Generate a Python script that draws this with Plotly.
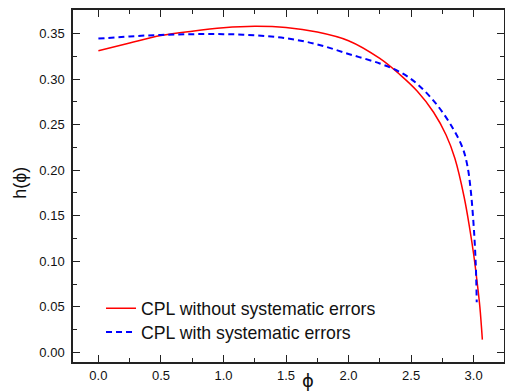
import plotly.graph_objects as go

# Red: CPL without systematic errors
red_x = [0.0, 0.25, 0.5, 0.75, 1.0, 1.25, 1.5, 1.75, 2.0, 2.25, 2.413, 2.55, 2.68, 2.78, 2.85, 2.925, 2.97, 3.0, 3.03, 3.05, 3.07]
red_y = [0.331, 0.3395, 0.3476, 0.3525, 0.3562, 0.3578, 0.3565, 0.3515, 0.342, 0.3225, 0.3045, 0.2865, 0.2635, 0.2385, 0.213, 0.170, 0.135, 0.108, 0.075, 0.050, 0.014]

# Blue: CPL with systematic errors
blue_x = [0.0, 0.25, 0.5, 0.75, 1.0, 1.25, 1.5, 1.75, 2.0, 2.25, 2.413, 2.55, 2.705, 2.838, 2.913, 2.95, 2.977, 3.0, 3.011, 3.019, 3.025]
blue_y = [0.3443, 0.3467, 0.3484, 0.3492, 0.3492, 0.348, 0.3447, 0.338, 0.3275, 0.317, 0.3075, 0.2945, 0.272, 0.245, 0.224, 0.205, 0.178, 0.140, 0.115, 0.090, 0.055]

x_ticks = [0.0, 0.5, 1.0, 1.5, 2.0, 2.5, 3.0]
x_labels = ["0.0", "0.5", "1.0", "1.5", "2.0", "2.5", "3.0"]
y_ticks = [0.00, 0.05, 0.10, 0.15, 0.20, 0.25, 0.30, 0.35]
y_labels = ["0.00", "0.05", "0.10", "0.15", "0.20", "0.25", "0.30", "0.35"]

FONT = "Arial, Liberation Sans, sans-serif"

fig = go.Figure()
fig.add_trace(go.Scatter(x=red_x, y=red_y, mode="lines", name="CPL without systematic errors",
                         legend="legend",
                         line=dict(color="#FF0000", width=1.5, shape="spline", smoothing=1.0)))
fig.add_trace(go.Scatter(x=blue_x, y=blue_y, mode="lines", name="CPL with systematic errors",
                         legend="legend2",
                         line=dict(color="#0000FF", width=2, dash="6px,4px", shape="spline", smoothing=1.0)))

axis_common = dict(showline=True, linecolor="#222222", linewidth=1.5, mirror="ticks",
                   ticks="inside", ticklen=7, tickwidth=1, tickcolor="#222222",
                   showgrid=False, zeroline=False, automargin=False,
                   tickfont=dict(family=FONT, size=13, color="#111111"))

leg_common = dict(xanchor="left", yanchor="middle", bgcolor="rgba(0,0,0,0)",
                  font=dict(family=FONT, size=17.7, color="#111111"))

fig.update_layout(
    width=505, height=392,
    margin=dict(l=73, r=1, t=10, b=30),
    paper_bgcolor="white", plot_bgcolor="white",
    showlegend=True,
    legend=dict(x=0.065, y=0.151, **leg_common),
    legend2=dict(x=0.065, y=0.0838, **leg_common),
    xaxis=dict(range=[-0.203, 3.243], tickvals=x_ticks, ticktext=x_labels, ticklabelstandoff=1,
               minor=dict(ticks="inside", ticklen=4, dtick=0.25, tick0=0, tickcolor="#222222"),
               **axis_common),
    yaxis=dict(range=[-0.0105, 0.3757], tickvals=y_ticks, ticktext=y_labels, ticklabelstandoff=4,
               minor=dict(ticks="inside", ticklen=4, dtick=0.025, tick0=0, tickcolor="#222222"),
               **axis_common),
    annotations=[
        dict(text="ϕ", xref="paper", yref="paper", x=0.545, y=-0.053, xanchor="center", yanchor="middle",
             showarrow=False, font=dict(family="DejaVu Sans, sans-serif", size=18, color="#111111")),
        dict(text="h(ϕ)", xref="paper", yref="paper", x=-0.123, y=0.509, xanchor="center", yanchor="middle",
             textangle=-90, showarrow=False, font=dict(family=FONT, size=18, color="#111111")),
    ],
)

fig.write_html("out.html")
